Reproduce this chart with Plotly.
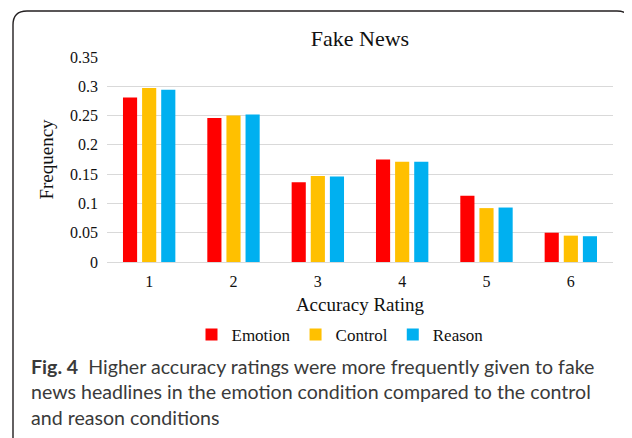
import plotly.graph_objects as go

# ── data ──
ratings = ["1", "2", "3", "4", "5", "6"]
emotion = [0.281, 0.246, 0.136, 0.175, 0.113, 0.050]
control = [0.297, 0.250, 0.147, 0.171, 0.092, 0.045]
reason = [0.294, 0.252, 0.146, 0.171, 0.093, 0.044]
y_ticks = [0, 0.05, 0.1, 0.15, 0.2, 0.25, 0.3, 0.35]
y_tick_text = ["0", "0.05", "0.1", "0.15", "0.2", "0.25", "0.3", "0.35"]

# page has an 8px body margin, so the figure is 8px smaller on each axis
OFF = 8
W, H = 632 - OFF, 438 - OFF
L, R, T, B = 107 - OFF, 19, 57 - OFF, 176   # plot area margins in px
PW, PH = W - L - R, H - T - B

def px(x):   # page pixel x -> paper
    return (x - OFF - L) / PW

def py(y):   # page pixel y -> paper
    return (H - B - (y - OFF)) / PH

SERIF = "Liberation Serif, Times New Roman, serif"
SANS = "Lato, Open Sans, sans-serif"

fig = go.Figure()
for name, vals, col in [("Emotion", emotion, "#FF0000"),
                        ("Control", control, "#FFC000"),
                        ("Reason", reason, "#00B0F0")]:
    fig.add_trace(go.Bar(x=ratings, y=vals, name=name,
                         marker=dict(color=col, line=dict(width=0))))

# rounded frame round the figure (only top corners visible)
x0, x1, y0, y1, r = px(13), px(631), py(11), py(460), 14
path = (f"M {x0},{y1} L {x0},{py(11 + r)} Q {x0},{y0} {px(13 + r)},{y0} "
        f"L {px(631 - r)},{y0} Q {x1},{y0} {x1},{py(11 + r)} L {x1},{y1}")
fig.add_shape(type="path", path=path, xref="paper", yref="paper",
              line=dict(color="#231F20", width=1.4), layer="above")

caption = ("<b>Fig. 4</b>  Higher accuracy ratings were more frequently given to fake<br>"
           "news headlines in the emotion condition compared to the control<br>"
           "and reason conditions")
fig.add_annotation(text=caption, xref="paper", yref="paper",
                   x=px(29), y=py(353), xanchor="left", yanchor="top",
                   align="left", showarrow=False,
                   font=dict(family=SANS, size=19.6, color="#3A3A3A"))

fig.update_layout(
    width=W, height=H,
    margin=dict(l=L, r=R, t=T, b=B, autoexpand=False),
    paper_bgcolor="white", plot_bgcolor="white",
    barmode="group", bargap=0.32, bargroupgap=0.26,
    font=dict(family=SERIF, size=16, color="#111111"),
    title=dict(text="Fake News", x=0.5, xref="paper", xanchor="center",
               y=1 - (38 - OFF) / H, yanchor="middle",
               font=dict(family=SERIF, size=22, color="#111111")),
    showlegend=True,
    legend=dict(orientation="h", x=px(340), xanchor="center",
                y=py(335), yanchor="middle",
                font=dict(family=SERIF, size=17, color="#111111"),
                itemwidth=30, traceorder="normal"),
    xaxis=dict(title=dict(text="Accuracy Rating", standoff=8,
                          font=dict(family=SERIF, size=19)),
               showgrid=False, showline=True, linecolor="#D9D9D9", linewidth=1,
               ticks="", ticklabelstandoff=5, zeroline=False),
    yaxis=dict(title=dict(text="Frequency", standoff=11,
                          font=dict(family=SERIF, size=19)),
               range=[0, 0.35], tickvals=y_ticks, ticktext=y_tick_text,
               showgrid=True, gridcolor="#D9D9D9", gridwidth=1,
               zeroline=False, ticks="", ticklabelstandoff=8),
)

fig.write_html("out.html")
